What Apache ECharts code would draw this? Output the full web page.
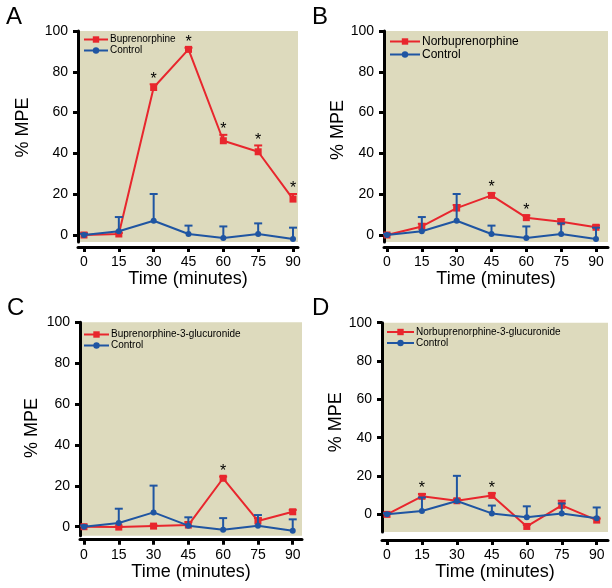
<!DOCTYPE html>
<html>
<head>
<meta charset="utf-8">
<script src="https://cdn.jsdelivr.net/npm/echarts@6/dist/echarts.min.js"></script>
<style>
html,body{margin:0;padding:0;background:#fff;}
#main{width:612px;height:588px;}
</style>
</head>
<body>
<div id="main"></div>
<script>
// ---- data ----
const times = [0, 15, 30, 45, 60, 75, 90];
const xTickValues = [0, 15, 30, 45, 60, 75, 90];
const yTickValues = [0, 20, 40, 60, 80, 100];

const controlMean = [0, 1.8, 7.0, 0.5, -1.5, 0.5, -2.0];
const controlErr  = [0.6, 7.0, 13.1, 4.1, 5.7, 5.2, 5.6];

const bupMean = [0, 0.5, 72.3, 91.0, 46.2, 40.8, 17.6];
const bupErr  = [0.8, 0.5, 1.6, 0.8, 2.9, 3.1, 2.5];
const bupStars = [30, 45, 60, 75, 90];

const norbupMean = [0, 4.2, 13.2, 19.4, 8.5, 6.5, 3.8];
const norbupErr  = [0.3, 1.3, 1.5, 1.2, 1.1, 1.2, 0.9];
const norbupStars = [45, 60];

const b3gMean = [0, -0.2, 0.3, 0.8, 23.7, 2.8, 7.3];
const b3gErr  = [0.3, 0.3, 0.3, 1.5, 0.8, 1.4, 0.9];
const b3gStars = [60];

const n3gMean = [0, 9.4, 7.1, 9.9, -6.3, 4.7, -3.0];
const n3gErr  = [0.5, 1.2, 0.8, 1.1, 0.8, 2.4, 0.8];
const n3gStars = [15, 45];

const panelLetters = ['A', 'B', 'C', 'D'];
const drugNames = ['Buprenorphine', 'Norbuprenorphine', 'Buprenorphine-3-glucuronide', 'Norbuprenorphine-3-glucuronide'];
const controlName = 'Control';
const xTitle = 'Time (minutes)';
const yTitle = '% MPE';

// ---- styles / layout ----
const RED = '#e8262d';
const BLUE = '#1f55a2';
const BG = '#dddabd';
const FONT = '"Liberation Sans", Arial, sans-serif';

const panels = [
  {mean: bupMean, err: bupErr, stars: bupStars,
   grid: {left: 78, top: 31, width: 220, height: 211}, xr: [-2.58, 92.15], yr: [-3.43, 100], xOff: 5,
   letter: {left: 6, top: 5}, legend: {left: 83, top: 34.5, w: 24, fs: 10, gap: 1}, yGap: 46, yPad: 18},
  {mean: norbupMean, err: norbupErr, stars: norbupStars,
   grid: {left: 384, top: 31, width: 224, height: 211}, xr: [-1.29, 95.17], yr: [-3.43, 100], xOff: 5,
   letter: {left: 312, top: 5}, legend: {left: 389, top: 35.5, w: 30, fs: 12, gap: 1}, yGap: 37, yPad: 13},
  {mean: b3gMean, err: b3gErr, stars: b3gStars,
   grid: {left: 80, top: 322.3, width: 222, height: 213.4}, xr: [-1.72, 94.0], yr: [-4.4, 100], xOff: 4,
   letter: {left: 7, top: 296}, legend: {left: 83, top: 329.5, w: 25, fs: 10, gap: 1}, yGap: 39, yPad: 2},
  {mean: n3gMean, err: n3gErr, stars: n3gStars,
   grid: {left: 382, top: 322.7, width: 226, height: 209.3}, xr: [-2.15, 94.85], yr: [-9.2, 100], xOff: 8,
   letter: {left: 312, top: 296}, legend: {left: 386, top: 327, w: 27, fs: 10, gap: 1}, yGap: 35, yPad: 10}
];

function errRender(color) {
  return function (params, api) {
    const x = api.value(0), m = api.value(1), e = api.value(2);
    const p0 = api.coord([x, m]);
    const p1 = api.coord([x, m + e]);
    const hw = 4;
    return {
      type: 'group',
      children: [
        {type: 'line', shape: {x1: p0[0], y1: p0[1], x2: p1[0], y2: p1[1]}, style: {stroke: color, lineWidth: 2}},
        {type: 'line', shape: {x1: p1[0] - hw, y1: p1[1], x2: p1[0] + hw, y2: p1[1]}, style: {stroke: color, lineWidth: 2}}
      ]
    };
  };
}
function starRender(params, api) {
  const p = api.coord([api.value(0), api.value(1)]);
  return {
    type: 'text',
    x: p[0], y: p[1] - 5,
    style: {text: '*', fill: '#000', font: '16px ' + FONT, align: 'center', verticalAlign: 'middle'}
  };
}

const option = {
  animation: false,
  backgroundColor: '#fff',
  textStyle: {fontFamily: FONT},
  title: [], grid: [], xAxis: [], yAxis: [], legend: [], series: []
};

panels.forEach((p, i) => {
  option.title.push({text: panelLetters[i], left: p.letter.left, top: p.letter.top, padding: 0,
    textStyle: {fontSize: 24, fontWeight: 'normal', color: '#000', fontFamily: FONT}});
  option.grid.push(Object.assign({show: true, backgroundColor: BG, borderWidth: 0}, p.grid));
  option.xAxis.push({
    type: 'value', gridIndex: i, min: p.xr[0], max: p.xr[1], offset: p.xOff,
    splitLine: {show: false},
    axisLine: {show: true, onZero: false, lineStyle: {color: '#000', width: 3}},
    axisTick: {show: true, length: 5, lineStyle: {width: 3, color: '#000'}, customValues: xTickValues},
    axisLabel: {show: true, fontSize: 14, color: '#000', margin: 8, customValues: xTickValues, fontFamily: FONT},
    name: xTitle, nameLocation: 'middle', nameGap: 21,
    nameTextStyle: {fontSize: 18, color: '#000', fontFamily: FONT}
  });
  option.yAxis.push({
    type: 'value', gridIndex: i, min: p.yr[0], max: p.yr[1],
    splitLine: {show: false},
    axisLine: {show: true, onZero: false, lineStyle: {color: '#000', width: 3}},
    axisTick: {show: true, length: 5, lineStyle: {width: 3, color: '#000'}, customValues: yTickValues},
    axisLabel: {show: true, fontSize: 14, color: '#000', margin: 10, customValues: yTickValues, fontFamily: FONT},
    name: yTitle, nameLocation: 'middle', nameGap: p.yGap,
    nameTextStyle: {fontSize: 18, color: '#000', fontFamily: FONT, padding: [0, 0, 0, p.yPad]}
  });
  option.legend.push({
    data: [drugNames[i], controlName], orient: 'vertical', left: p.legend.left, top: p.legend.top,
    itemWidth: p.legend.w, itemHeight: 8, itemGap: p.legend.gap, padding: 0, selectedMode: false,
    textStyle: {fontSize: p.legend.fs, color: '#000', fontFamily: FONT, padding: [0, 0, 0, -3]}
  });
  const redData = times.map((t, k) => [t, p.mean[k]]);
  const blueData = times.map((t, k) => [t, controlMean[k]]);
  option.series.push({
    type: 'custom', xAxisIndex: i, yAxisIndex: i, renderItem: errRender(RED),
    data: times.map((t, k) => [t, p.mean[k], p.err[k]]), z: 2, silent: true
  });
  option.series.push({
    name: drugNames[i], type: 'line', xAxisIndex: i, yAxisIndex: i, data: redData,
    symbol: 'rect', symbolSize: 7, itemStyle: {color: RED}, lineStyle: {color: RED, width: 2}, z: 3
  });
  option.series.push({
    type: 'custom', xAxisIndex: i, yAxisIndex: i, renderItem: errRender(BLUE),
    data: times.map((t, k) => [t, controlMean[k], controlErr[k]]), z: 4, silent: true
  });
  option.series.push({
    name: controlName, type: 'line', xAxisIndex: i, yAxisIndex: i, data: blueData,
    symbol: 'circle', symbolSize: 6, itemStyle: {color: BLUE}, lineStyle: {color: BLUE, width: 2}, z: 5
  });
  option.series.push({
    type: 'custom', xAxisIndex: i, yAxisIndex: i, renderItem: starRender, z: 6, silent: true,
    data: p.stars.map(t => { const k = times.indexOf(t); return [t, p.mean[k] + p.err[k]]; })
  });
});

const chart = echarts.init(document.getElementById('main'), null, {renderer: 'canvas'});
chart.setOption(option);
</script>
</body>
</html>
